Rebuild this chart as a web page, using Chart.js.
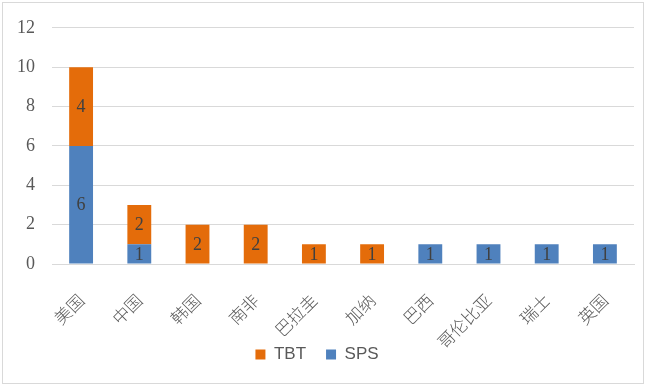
<!DOCTYPE html>
<html>
<head>
<meta charset="utf-8">
<script src="https://cdn.jsdelivr.net/npm/chart.js@4"></script>
<style>
  html, body { margin: 0; padding: 0; background: #fff; }
  #wrap { width: 646px; height: 386px; position: relative; }
</style>
</head>
<body>
<div id="wrap"><canvas id="c" width="646" height="386"></canvas></div>
<script>
// data
const countries = ["美国", "中国", "韩国", "南非", "巴拉圭", "加纳", "巴西", "哥伦比亚", "瑞士", "英国"];
const sps = [6, 1, 0, 0, 0, 0, 1, 1, 1, 1];
const tbt = [4, 2, 2, 2, 1, 1, 0, 0, 0, 0];
const yTicks = [0, 2, 4, 6, 8, 10, 12];

const BLUE = "#4f81bd", ORANGE = "#e46c0a";
const numFont = { family: "'Liberation Serif', 'DejaVu Serif', serif", size: 18 };

// frame round the whole chart, like the office chart border
const frame = {
  id: "frame",
  beforeDraw(chart) {
    const ctx = chart.ctx;
    ctx.save();
    ctx.fillStyle = "#fff";
    ctx.fillRect(0, 0, chart.width, chart.height);
    ctx.strokeStyle = "#d9d9d9";
    ctx.lineWidth = 1;
    ctx.strokeRect(2.5, 2.5, chart.width - 5, chart.height - 5);
    ctx.restore();
  },
};

// value labels in the middle of each non-empty segment
const segLabels = {
  id: "segLabels",
  afterDatasetsDraw(chart) {
    const ctx = chart.ctx;
    ctx.save();
    ctx.font = `${numFont.size}px ${numFont.family}`;
    ctx.fillStyle = "#404040";
    ctx.textAlign = "center";
    ctx.textBaseline = "middle";
    chart.data.datasets.forEach((ds, di) => {
      chart.getDatasetMeta(di).data.forEach((bar, i) => {
        const v = ds.data[i];
        if (!v) return;
        ctx.fillText(String(v), bar.x, (bar.y + bar.base) / 2 + 1);
      });
    });
    ctx.restore();
  },
};

new Chart(document.getElementById("c"), {
  type: "bar",
  data: {
    labels: countries,
    datasets: [
      { label: "SPS", data: sps, backgroundColor: BLUE },
      { label: "TBT", data: tbt, backgroundColor: ORANGE },
    ],
  },
  options: {
    responsive: false,
    animation: false,
    layout: { padding: { top: 26, right: 12, bottom: 13, left: 0 } },
    datasets: { bar: { categoryPercentage: 1, barPercentage: 0.41 } },
    scales: {
      x: {
        stacked: true,
        grid: { display: false },
        border: { color: "#d9d9d9" },
        ticks: {
          color: "#595959", minRotation: 45, maxRotation: 45, padding: 18,
          font: { family: "'Noto Sans CJK SC', sans-serif", size: 17, weight: 300 },
        },
        afterFit: (s) => {
          s.height = 62;
          // long labels (哥伦比亚) run down past the legend line, so no clipping
          s._computeLabelArea = () => undefined;
        },
      },
      y: {
        stacked: true,
        min: 0, max: 12,
        afterBuildTicks: (s) => { s.ticks = yTicks.map((v) => ({ value: v })); },
        grid: { color: "#d9d9d9", drawTicks: false },
        border: { display: false },
        ticks: { color: "#595959", padding: 17, font: numFont },
        afterFit: (s) => { s.width = 52; },
      },
    },
    plugins: {
      legend: {
        position: "bottom",
        reverse: true,
        labels: {
          boxWidth: 10, boxHeight: 10, padding: 20, color: "#595959",
          font: { family: "'Liberation Sans', sans-serif", size: 17 },
        },
      },
      tooltip: { enabled: false },
    },
  },
  plugins: [frame, segLabels],
});
</script>
</body>
</html>
